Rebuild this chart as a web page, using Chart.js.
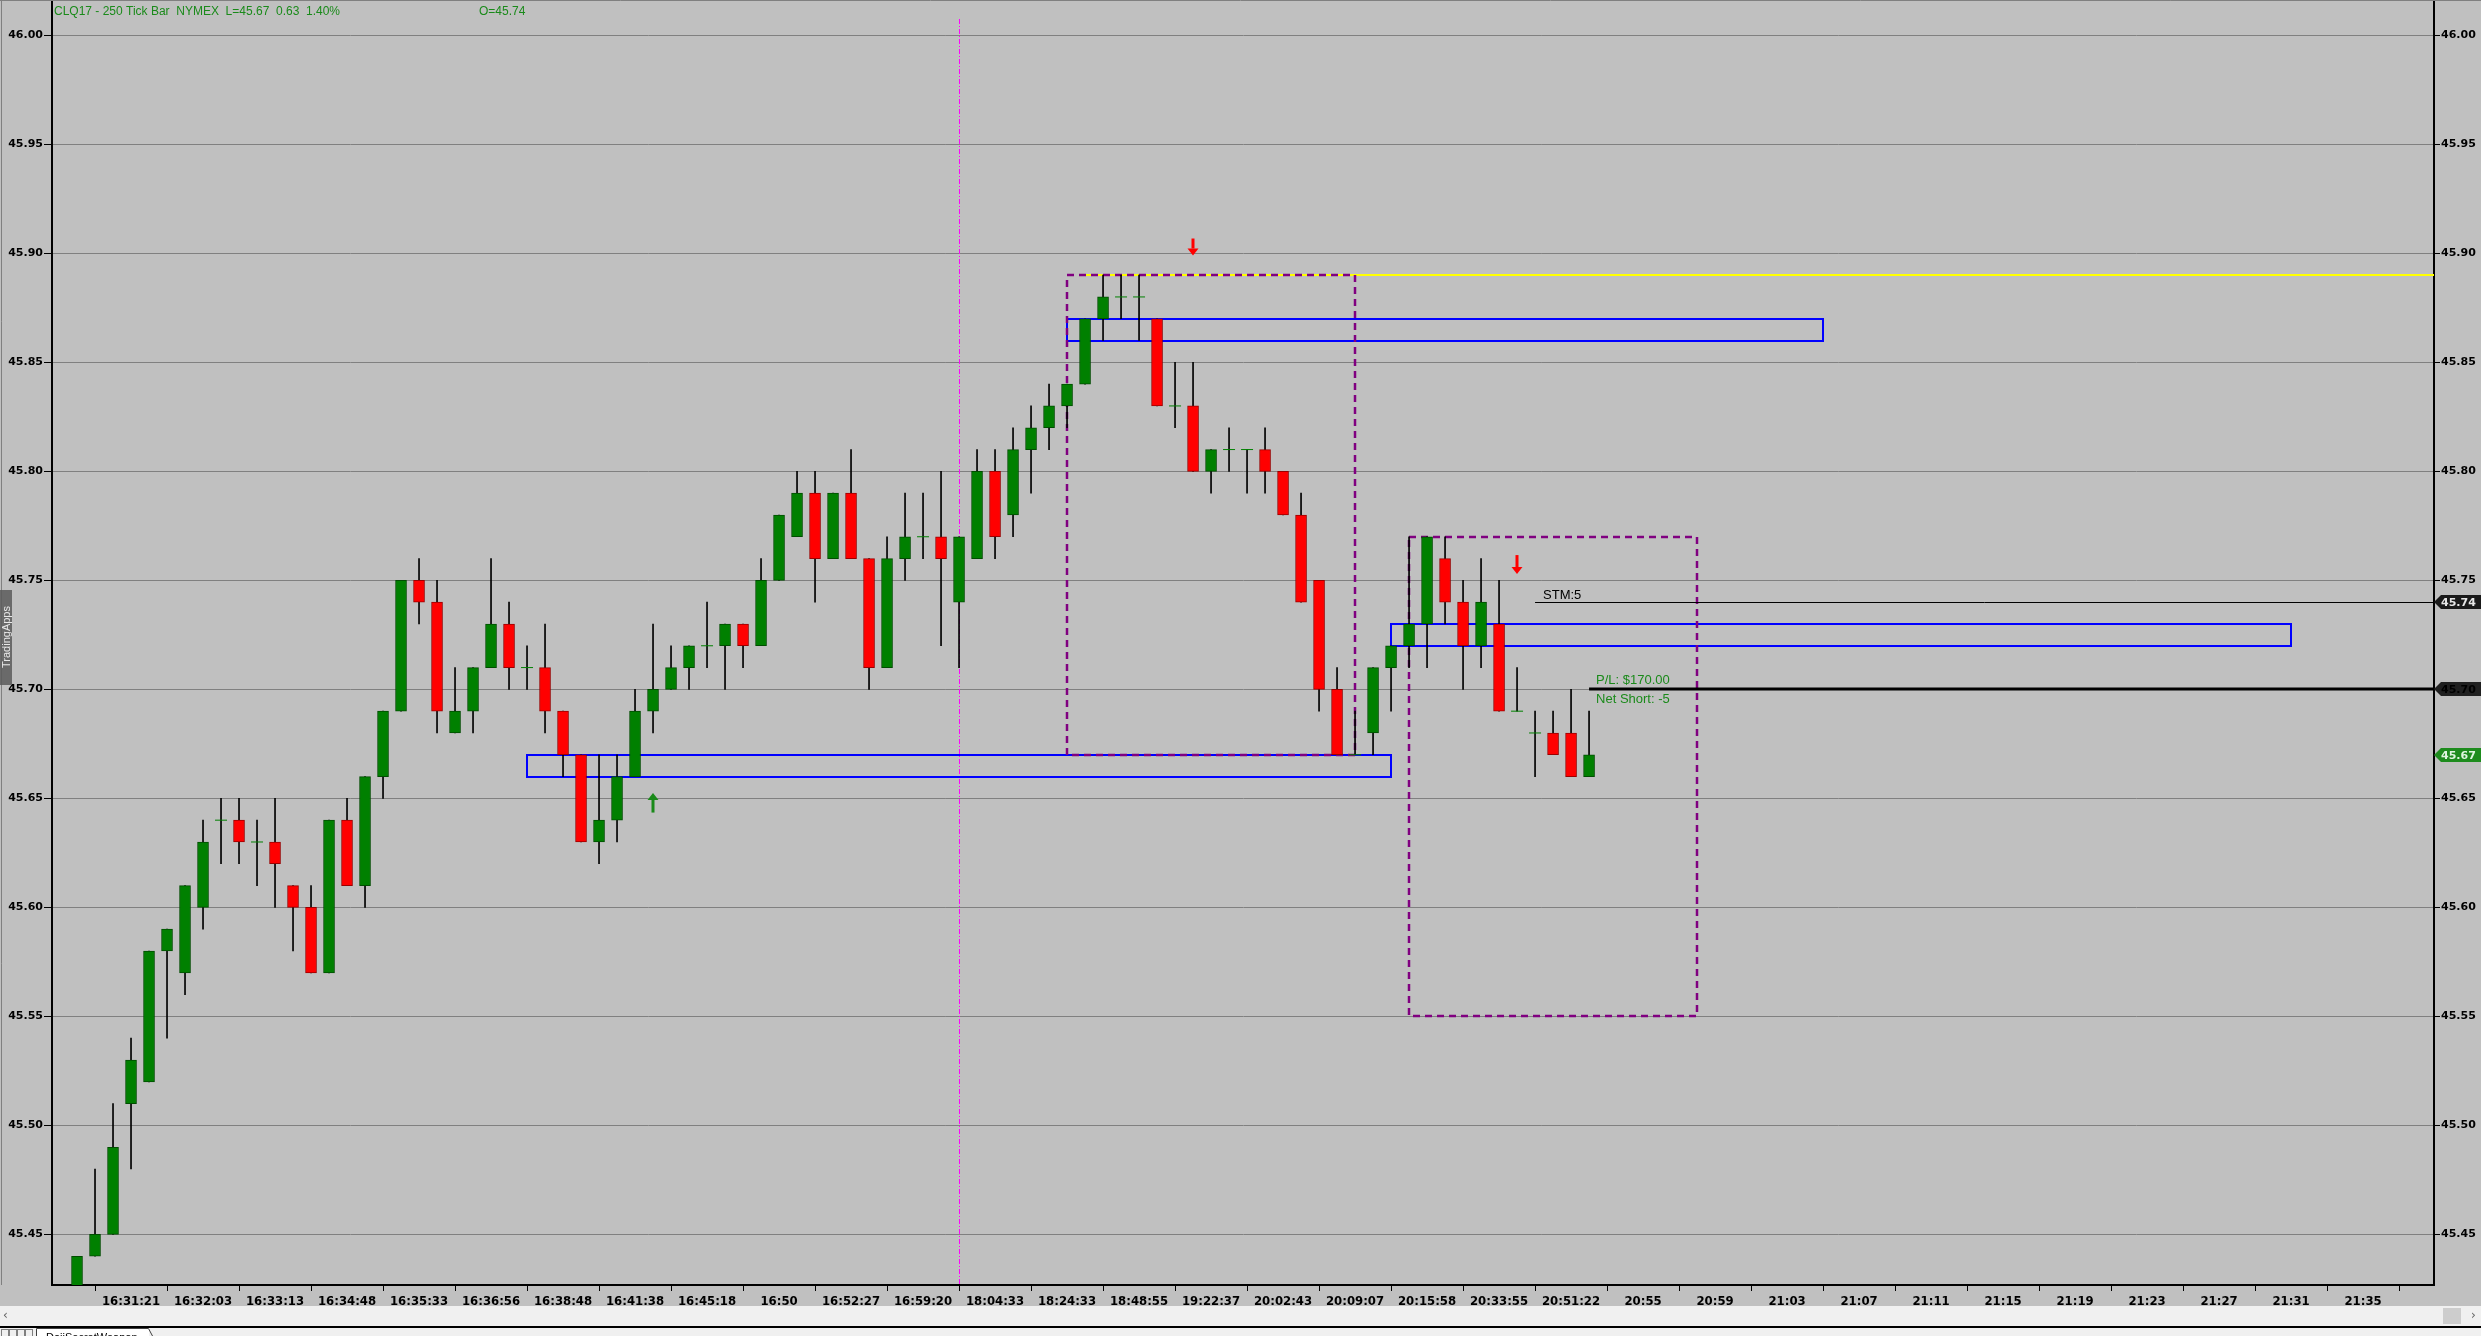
<!DOCTYPE html>
<html>
<head>
<meta charset="utf-8">
<title>CLQ17 - 250 Tick Bar</title>
<script src="https://cdn.jsdelivr.net/npm/chart.js@4.4.1/dist/chart.umd.min.js"></script>
<style>
  html, body { margin: 0; padding: 0; background: #c0c0c0; overflow: hidden; }
  canvas { display: block; }
</style>
</head>
<body>
<canvas id="chart" width="2481" height="1336"></canvas>
<script>
// ===== Bar data (250 tick bars) =====
const opens = [
  45.42, 45.44, 45.45, 45.51, 45.52, 45.58, 45.57, 45.60, 45.64, 45.64,
  45.63, 45.63, 45.61, 45.60, 45.57, 45.64, 45.61, 45.66, 45.69, 45.75,
  45.74, 45.68, 45.69, 45.71, 45.73, 45.71, 45.71, 45.69, 45.67, 45.63,
  45.64, 45.66, 45.69, 45.70, 45.71, 45.72, 45.72, 45.73, 45.72, 45.75,
  45.77, 45.79, 45.76, 45.79, 45.76, 45.71, 45.76, 45.77, 45.77, 45.74,
  45.76, 45.80, 45.78, 45.81, 45.82, 45.83, 45.84, 45.87, 45.88, 45.88,
  45.87, 45.83, 45.83, 45.80, 45.81, 45.81, 45.81, 45.80, 45.78, 45.75,
  45.70, 45.67, 45.68, 45.71, 45.72, 45.73, 45.76, 45.74, 45.72, 45.73,
  45.69, 45.68, 45.68, 45.68, 45.66
];
const highs = [
  45.44, 45.48, 45.51, 45.54, 45.58, 45.59, 45.61, 45.64, 45.65, 45.65,
  45.64, 45.65, 45.61, 45.61, 45.64, 45.65, 45.66, 45.69, 45.75, 45.76,
  45.75, 45.71, 45.71, 45.76, 45.74, 45.72, 45.73, 45.69, 45.67, 45.67,
  45.67, 45.70, 45.73, 45.72, 45.72, 45.74, 45.73, 45.73, 45.76, 45.78,
  45.80, 45.80, 45.79, 45.81, 45.76, 45.77, 45.79, 45.79, 45.80, 45.77,
  45.81, 45.81, 45.82, 45.83, 45.84, 45.84, 45.87, 45.89, 45.89, 45.89,
  45.87, 45.85, 45.85, 45.81, 45.82, 45.81, 45.82, 45.80, 45.79, 45.75,
  45.71, 45.69, 45.71, 45.72, 45.77, 45.77, 45.77, 45.75, 45.76, 45.75,
  45.71, 45.69, 45.69, 45.70, 45.69
];
const lows = [
  45.41, 45.44, 45.45, 45.48, 45.52, 45.54, 45.56, 45.59, 45.62, 45.62,
  45.61, 45.60, 45.58, 45.57, 45.57, 45.61, 45.60, 45.65, 45.69, 45.73,
  45.68, 45.68, 45.68, 45.71, 45.70, 45.70, 45.68, 45.66, 45.63, 45.62,
  45.63, 45.66, 45.68, 45.70, 45.70, 45.71, 45.70, 45.71, 45.72, 45.75,
  45.77, 45.74, 45.76, 45.76, 45.70, 45.71, 45.75, 45.76, 45.72, 45.71,
  45.76, 45.76, 45.77, 45.79, 45.81, 45.82, 45.84, 45.86, 45.87, 45.86,
  45.83, 45.82, 45.80, 45.79, 45.80, 45.79, 45.79, 45.78, 45.74, 45.69,
  45.67, 45.67, 45.67, 45.69, 45.71, 45.71, 45.73, 45.70, 45.71, 45.69,
  45.69, 45.66, 45.67, 45.66, 45.66
];
const closes = [
  45.44, 45.45, 45.49, 45.53, 45.58, 45.59, 45.61, 45.63, 45.64, 45.63,
  45.63, 45.62, 45.60, 45.57, 45.64, 45.61, 45.66, 45.69, 45.75, 45.74,
  45.69, 45.69, 45.71, 45.73, 45.71, 45.71, 45.69, 45.67, 45.63, 45.64,
  45.66, 45.69, 45.70, 45.71, 45.72, 45.72, 45.73, 45.72, 45.75, 45.78,
  45.79, 45.76, 45.79, 45.76, 45.71, 45.76, 45.77, 45.77, 45.76, 45.77,
  45.80, 45.77, 45.81, 45.82, 45.83, 45.84, 45.87, 45.88, 45.88, 45.88,
  45.83, 45.83, 45.80, 45.81, 45.81, 45.81, 45.80, 45.78, 45.74, 45.70,
  45.67, 45.67, 45.71, 45.72, 45.73, 45.77, 45.74, 45.72, 45.74, 45.69,
  45.69, 45.68, 45.67, 45.66, 45.67
];

// time labels, one every 4th bar slot (bar 3, 7, 11, ...)
const tickLabels = [
  "16:31:21", "16:32:03", "16:33:13", "16:34:48", "16:35:33", "16:36:56", "16:38:48", "16:41:38",
  "16:45:18", "16:50", "16:52:27", "16:59:20", "18:04:33", "18:24:33", "18:48:55", "19:22:37",
  "20:02:43", "20:09:07", "20:15:58", "20:33:55", "20:51:22", "20:55", "20:59", "21:03",
  "21:07", "21:11", "21:15", "21:19", "21:23", "21:27", "21:31", "21:35"
];
const priceTicks = [45.45, 45.50, 45.55, 45.60, 45.65, 45.70, 45.75, 45.80, 45.85, 45.90, 45.95, 46.00];

// ===== Drawing objects (bar index / price) =====
const sessionBreak = 49;
const highLine = { from: 56, price: 45.89 };
const blueZones = [
  { from: 25, to: 73, lo: 45.66, hi: 45.67 },
  { from: 55, to: 97, lo: 45.86, hi: 45.87 },
  { from: 73, to: 123, lo: 45.72, hi: 45.73 }
];
const rangeBoxes = [
  { from: 55, to: 71, lo: 45.67, hi: 45.89 },
  { from: 74, to: 90, lo: 45.55, hi: 45.77 }
];
const arrows = [
  { bar: 32, tail: 45.6435, tip: 45.6525, color: "#1a8a1a" },
  { bar: 62, tail: 45.9068, tip: 45.8990, color: "#ff0000" },
  { bar: 80, tail: 45.7616, tip: 45.7529, color: "#ff0000" }
];
const stopLine = { from: 81, price: 45.74, text: "STM:5" };
const entryLine = { from: 84, price: 45.70, pl: "P/L: $170.00", pos: "Net Short: -5" };
const lastPrice = 45.67;

const GREEN = "#008000", RED = "#ff0000";

// ===== Build datasets =====
const idx = opens.map((_, i) => i);
const isDoji = i => Math.abs(opens[i] - closes[i]) < 1e-9;

const wickData = idx.map(i => ({ x: i, y: [lows[i], highs[i]] }));
const bodyData = idx.filter(i => !isDoji(i))
  .map(i => ({ x: i, y: [opens[i], closes[i]], up: closes[i] > opens[i] }));
const dojiData = idx.filter(isDoji).map(i => ({ x: i, y: opens[i] }));

// ===== Helpers =====
function hline(ctx, x1, x2, y) {
  ctx.beginPath(); ctx.moveTo(x1, y); ctx.lineTo(x2, y); ctx.stroke();
}
function vline(ctx, x, y1, y2) {
  ctx.beginPath(); ctx.moveTo(x, y1); ctx.lineTo(x, y2); ctx.stroke();
}
function px(v) { return Math.round(v) + 0.5; }

// ===== Plugin: trader drawings, axis tags, frame =====
const studies = {
  id: "studies",
  beforeDatasetsDraw(chart) {
    const { ctx, chartArea: a, scales: { x, y } } = chart;
    ctx.save();

    // session break
    ctx.strokeStyle = "#ff00ff"; ctx.lineWidth = 1; ctx.setLineDash([5, 2, 1, 2]);
    vline(ctx, px(x.getPixelForValue(sessionBreak)), a.top + 19, a.bottom);

    // yellow high line
    ctx.setLineDash([]);
    ctx.strokeStyle = "#ffff00"; ctx.lineWidth = 2;
    hline(ctx, x.getPixelForValue(highLine.from), a.right, Math.round(y.getPixelForValue(highLine.price)));

    // blue zones
    ctx.strokeStyle = "#0000ff"; ctx.lineWidth = 2;
    blueZones.forEach(z => {
      const x1 = Math.round(x.getPixelForValue(z.from)), x2 = Math.round(x.getPixelForValue(z.to));
      const y1 = Math.round(y.getPixelForValue(z.hi)), y2 = Math.round(y.getPixelForValue(z.lo));
      ctx.strokeRect(x1, y1, x2 - x1, y2 - y1);
    });

    // dashed range boxes
    ctx.strokeStyle = "#800080"; ctx.lineWidth = 2.5; ctx.setLineDash([7, 5]);
    rangeBoxes.forEach(b => {
      const x1 = Math.round(x.getPixelForValue(b.from)), x2 = Math.round(x.getPixelForValue(b.to));
      const y1 = Math.round(y.getPixelForValue(b.hi)), y2 = Math.round(y.getPixelForValue(b.lo));
      ctx.strokeRect(x1, y1, x2 - x1, y2 - y1);
    });
    ctx.restore();
  },
  afterDatasetsDraw(chart) {
    const { ctx, chartArea: a, scales: { x, y } } = chart;
    ctx.save();

    // stop / entry lines
    ctx.strokeStyle = "#000"; ctx.lineWidth = 1;
    const ys = px(y.getPixelForValue(stopLine.price));
    hline(ctx, x.getPixelForValue(stopLine.from), a.right, ys);
    ctx.lineWidth = 3;
    const ye = Math.round(y.getPixelForValue(entryLine.price));
    hline(ctx, x.getPixelForValue(entryLine.from), a.right, ye);

    ctx.font = "13px 'Liberation Sans', Arial, sans-serif";
    ctx.textBaseline = "alphabetic";
    ctx.fillStyle = "#000";
    ctx.fillText(stopLine.text, x.getPixelForValue(stopLine.from) + 8, ys - 4);
    ctx.fillStyle = "#1a8a1a";
    ctx.fillText(entryLine.pl, x.getPixelForValue(entryLine.from) + 7, ye - 5);
    ctx.fillText(entryLine.pos, x.getPixelForValue(entryLine.from) + 7, ye + 14);

    // arrows
    arrows.forEach(ar => {
      const cx = Math.round(x.getPixelForValue(ar.bar));
      const yt = y.getPixelForValue(ar.tail), yp = y.getPixelForValue(ar.tip);
      const dir = yp > yt ? 1 : -1;
      const head = 7;
      ctx.fillStyle = ar.color;
      ctx.fillRect(cx - 1.5, Math.min(yt, yp - dir * head), 3, Math.abs(yp - dir * head - yt));
      ctx.beginPath();
      ctx.moveTo(cx, yp);
      ctx.lineTo(cx - 5.5, yp - dir * head);
      ctx.lineTo(cx + 5.5, yp - dir * head);
      ctx.closePath(); ctx.fill();
    });
    ctx.restore();
  },
  afterDraw(chart) {
    const { ctx, chartArea: a, scales: { y } } = chart;
    const W = chart.width;
    ctx.save();

    // frame lines
    ctx.strokeStyle = "#808080"; ctx.lineWidth = 1;
    hline(ctx, 0, W, 0.5);
    vline(ctx, 1.5, 0, a.bottom);

    // header text
    ctx.font = "12px 'Liberation Sans', Arial, sans-serif";
    ctx.fillStyle = "#1a8a1a";
    ctx.textBaseline = "alphabetic";
    ctx.fillText("CLQ17 - 250 Tick Bar  NYMEX  L=" + lastPrice.toFixed(2) + "  0.63  1.40%", a.left + 2, 15);
    ctx.fillText("O=" + stopLine.price.toFixed(2), 479, 15);

    // price tags on right axis
    const tag = (price, fill, color) => {
      const ty = Math.round(y.getPixelForValue(price));
      ctx.fillStyle = fill;
      ctx.beginPath();
      ctx.moveTo(a.right, ty);
      ctx.lineTo(a.right + 7, ty - 7);
      ctx.lineTo(W, ty - 7);
      ctx.lineTo(W, ty + 7);
      ctx.lineTo(a.right + 7, ty + 7);
      ctx.closePath(); ctx.fill();
      ctx.fillStyle = color;
      ctx.font = "bold 11px 'DejaVu Sans', Verdana, sans-serif";
      ctx.textBaseline = "middle";
      ctx.fillText(price.toFixed(2), a.right + 7, ty + 1);
    };
    tag(stopLine.price, "#1a1a1a", "#e6e6e6");
    tag(entryLine.price, "#202020", "#000000");
    tag(lastPrice, "#1e8c1e", "#dff5df");

    // TradingApps side tab
    ctx.fillStyle = "rgba(90,90,90,0.85)";
    ctx.fillRect(0, 590, 12, 95);
    ctx.save();
    ctx.translate(7, 637);
    ctx.rotate(-Math.PI / 2);
    ctx.fillStyle = "#e8e8e8";
    ctx.font = "11px 'Liberation Sans', Arial, sans-serif";
    ctx.textAlign = "center";
    ctx.textBaseline = "middle";
    ctx.fillText("TradingApps", 0, 0);
    ctx.restore();

    // scroll bar + tab strip
    ctx.fillStyle = "#f0f0f0";
    ctx.fillRect(0, 1306, W, 20);
    ctx.fillStyle = "#cdcdcd";
    ctx.fillRect(2443, 1308, 18, 16);
    ctx.fillStyle = "#606060";
    ctx.font = "12px 'DejaVu Sans', sans-serif";
    ctx.textBaseline = "middle";
    ctx.fillText("\u2039", 3, 1316);
    ctx.fillText("\u203a", 2471, 1316);
    ctx.fillStyle = "#000";
    ctx.fillRect(0, 1326, W, 2);
    ctx.fillStyle = "#f0f0f0";
    ctx.fillRect(0, 1328, W, 8);
    ctx.strokeStyle = "#808080";
    for (let k = 0; k < 4; k++) ctx.strokeRect(1.5 + k * 8, 1329.5, 7, 8);
    ctx.fillStyle = "#ffffff";
    ctx.fillRect(36, 1328, 113, 8);
    ctx.strokeStyle = "#404040";
    ctx.beginPath(); ctx.moveTo(36.5, 1336); ctx.lineTo(36.5, 1328.5); ctx.lineTo(148.5, 1328.5); ctx.lineTo(152.5, 1336); ctx.stroke();
    ctx.fillStyle = "#000";
    ctx.font = "11px 'Liberation Sans', Arial, sans-serif";
    ctx.textBaseline = "alphabetic";
    ctx.fillText("DojiSecretWeapon", 46, 1341);
    ctx.restore();
  }
};

// ===== Chart =====
const priceAxis = (position, width, gridOnChart) => ({
  type: "linear",
  position: position,
  min: 45.4268,
  max: 46.0162,
  afterBuildTicks: s => { s.ticks = priceTicks.map(v => ({ value: v })); },
  afterFit: s => { s.width = width; s.paddingTop = 0; s.paddingBottom = 0; },
  grid: { drawOnChartArea: gridOnChart, color: "#808080", lineWidth: 1, tickLength: position === "left" ? 8 : 6, tickColor: "#000" },
  border: { color: "#000", width: 2 },
  ticks: {
    padding: 1,
    color: "#000",
    font: { family: "'DejaVu Sans', Verdana, sans-serif", size: 11, weight: "bold" },
    callback: v => Number(v).toFixed(2)
  }
});

new Chart(document.getElementById("chart"), {
  type: "bar",
  data: {
    datasets: [
      {
        label: "wicks",
        data: wickData,
        backgroundColor: "#000",
        barThickness: 1,
        grouped: false,
        clip: 0,
        order: 3
      },
      {
        label: "bodies",
        data: bodyData,
        backgroundColor: c => (c.raw && c.raw.up ? GREEN : RED),
        borderColor: c => (c.raw && c.raw.up ? "#004d00" : "#9a0000"),
        borderWidth: 1,
        borderSkipped: false,
        barThickness: 11,
        grouped: false,
        clip: 0,
        order: 1
      },
      {
        type: "scatter",
        label: "doji",
        data: dojiData,
        pointStyle: "line",
        pointRadius: 6,
        pointHoverRadius: 6,
        borderColor: GREEN,
        borderWidth: 1,
        clip: 0,
        order: 2
      }
    ]
  },
  options: {
    responsive: false,
    animation: false,
    devicePixelRatio: 1,
    events: [],
    layout: { padding: 0, autoPadding: false },
    plugins: { legend: { display: false }, tooltip: { enabled: false } },
    scales: {
      x: {
        type: "linear",
        offset: false,
        min: -1.39,
        max: 130.94,
        afterBuildTicks: s => { s.ticks = tickLabels.map((_, k) => ({ value: 3 + 4 * k })); },
        afterFit: s => { s.height = 51; s.paddingLeft = 0; s.paddingRight = 0; },
        grid: { drawOnChartArea: false, tickLength: 6, tickColor: "#000" },
        border: { color: "#000", width: 2 },
        ticks: {
          autoSkip: false,
          maxRotation: 0,
          padding: 3,
          color: "#000",
          font: { family: "'DejaVu Sans Condensed', 'DejaVu Sans', sans-serif", size: 13, weight: "bold" },
          callback: v => tickLabels[Math.round((v - 3) / 4)] || ""
        }
      },
      y: priceAxis("left", 52, true),
      y2: priceAxis("right", 47, false)
    }
  },
  plugins: [studies]
});
</script>
</body>
</html>
